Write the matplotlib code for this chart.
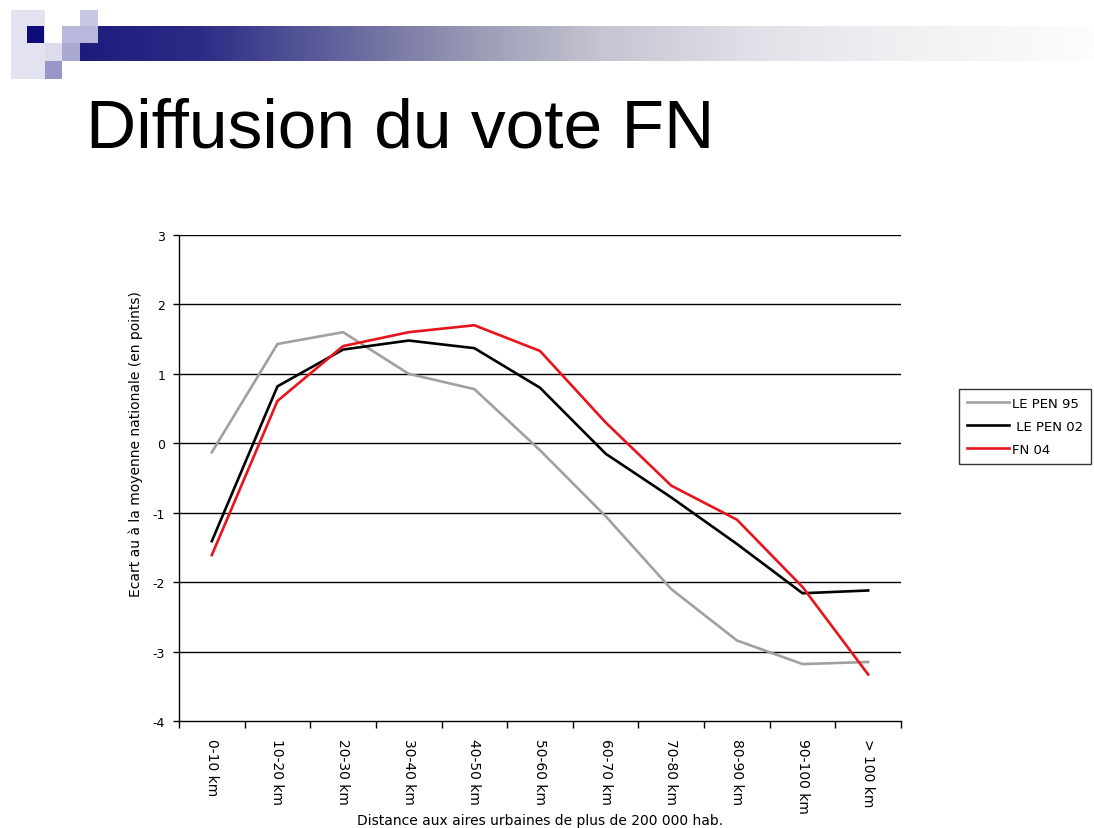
import matplotlib
matplotlib.use("Agg")
import matplotlib.pyplot as plt
import numpy as np
from matplotlib.patches import Rectangle
from matplotlib.colors import LinearSegmentedColormap

categories = ["0-10 km", "10-20 km", "20-30 km", "30-40 km", "40-50 km", "50-60 km",
              "60-70 km", "70-80 km", "80-90 km", "90-100 km", "> 100 km"]
lepen95 = [-0.13, 1.43, 1.60, 1.00, 0.78, -0.10, -1.05, -2.10, -2.84, -3.18, -3.15]
lepen02 = [-1.41, 0.82, 1.35, 1.48, 1.37, 0.80, -0.15, -0.78, -1.45, -2.16, -2.12]
fn04 = [-1.61, 0.61, 1.40, 1.60, 1.70, 1.33, 0.30, -0.61, -1.10, -2.07, -3.33]
series_names = ["LE PEN 95", " LE PEN 02", "FN 04"]
yticks = [-4, -3, -2, -1, 0, 1, 2, 3]

W, H = 1094, 829
fig = plt.figure(figsize=(W / 100, H / 100), dpi=100)

# header decoration (figure pixel coordinates)
deco = fig.add_axes([0, 0, 1, 1], zorder=-1)
deco.set_xlim(0, W)
deco.set_ylim(H, 0)
deco.axis("off")
stops = [(80, "#1c1c7e"), (200, "#2c2c86"), (380, "#7474a4"), (480, "#9c9cb6"),
         (600, "#c4c4d2"), (750, "#e0e0e8"), (900, "#f0f0f3"), (1094, "#fdfdfd")]
grad = LinearSegmentedColormap.from_list(
    "g", [((p - 80) / (1094 - 80), c) for p, c in stops])
gx = np.linspace(0, 1, 600).reshape(1, -1)
deco.imshow(gx, cmap=grad, extent=[80, W, 62, 27], aspect="auto")
sq = [
    (11, 11, 34, 69, "#e2e2f0"),
    (45, 44, 35, 18, "#dcdcec"),
    (27, 27, 17, 17, "#0c0c7a"),
    (45, 62, 17, 18, "#9898c8"),
    (62, 27, 36, 17, "#b8b8dc"),
    (62, 44, 18, 18, "#a8a8d0"),
    (80, 11, 18, 16, "#c8c8e4"),
]
for x, y, w, h, c in sq:
    deco.add_patch(Rectangle((x, y), w, h, color=c, lw=0))

fig.text(86 / W, 1 - 148 / H, "Diffusion du vote FN", fontsize=50,
         family="Liberation Sans", va="baseline", ha="left", color="black")

ax = fig.add_axes([179 / W, 1 - 722 / H, (901 - 179) / W, (722 - 236) / H])
x = np.arange(len(categories))
ax.plot(x, lepen95, color="#a0a0a0", lw=1.9, label=series_names[0])
ax.plot(x, lepen02, color="#000000", lw=1.9, label=series_names[1])
ax.plot(x, fn04, color="#e8141b", lw=1.9, label=series_names[2])

ax.set_xlim(-0.5, len(categories) - 0.5)
ax.set_ylim(-4, 3)
ax.set_yticks(yticks)
ax.set_yticklabels([str(v) for v in yticks], fontsize=9)
for v in yticks[1:]:
    ax.axhline(v, color="black", lw=1.0, zorder=0)

ax.set_xticks(x)
ax.set_xticklabels(categories, rotation=-90, fontsize=10, va="top", ha="center")
ax.set_xticks(np.arange(-0.5, len(categories)), minor=True)
ax.tick_params(axis="x", which="major", length=0, pad=12)
ax.tick_params(axis="x", which="minor", length=5, direction="out", width=1)
ax.tick_params(axis="y", length=4, direction="out", width=1, pad=6)

for s in ["top", "right"]:
    ax.spines[s].set_visible(False)
ax.spines["left"].set_linewidth(1.0)
ax.spines["bottom"].set_linewidth(1.0)

ax.set_xlabel("Distance aux aires urbaines de plus de 200 000 hab.", fontsize=10, labelpad=0)
fig.text(136 / W, 1 - 444 / H, "Ecart au à la moyenne nationale (en points)",
         fontsize=10, rotation=90, ha="center", va="center")

leg = fig.legend(loc="upper left", bbox_to_anchor=(959 / W, 1 - 390 / H), fontsize=9.5,
                 frameon=True, fancybox=False, edgecolor="black", handlelength=3.2,
                 handletextpad=0.2, borderpad=0.6, labelspacing=0.75, borderaxespad=0)
leg.get_frame().set_linewidth(1.0)

fig.savefig("out.png", dpi=100)
